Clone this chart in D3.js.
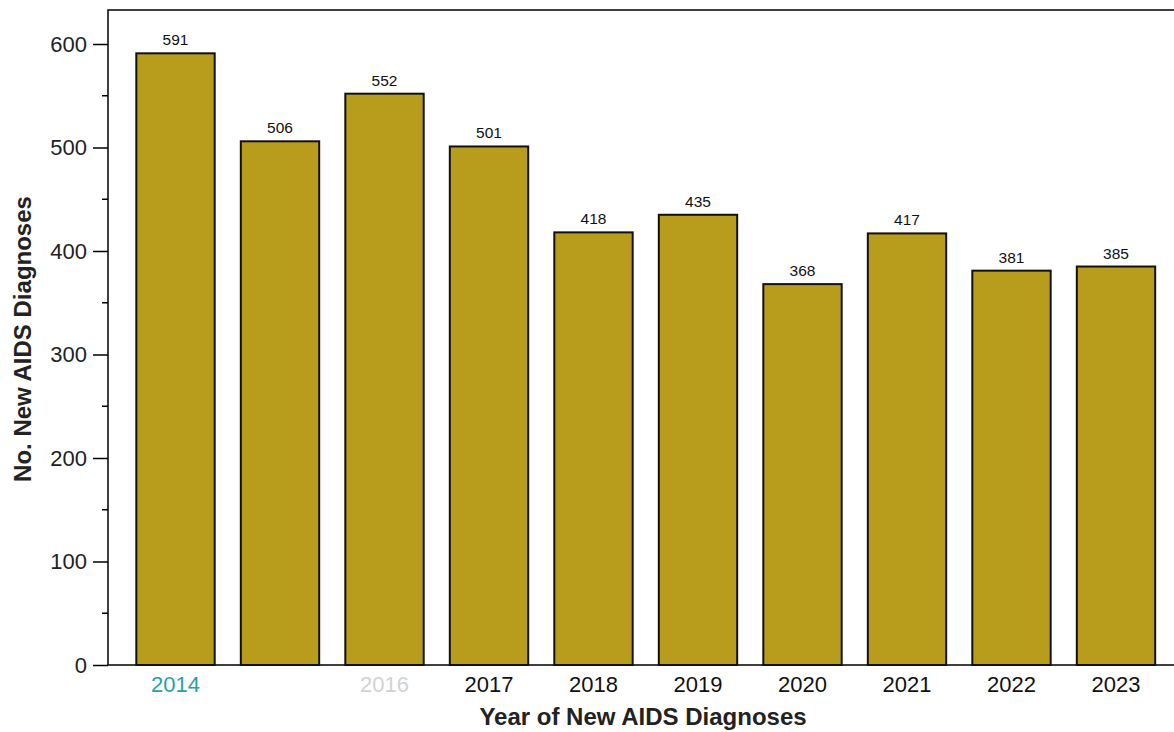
<!DOCTYPE html>
<html><head><meta charset="utf-8">
<script src="https://cdn.jsdelivr.net/npm/d3@7"></script>
<style>body{margin:0;background:#fff}svg{display:block}text{font-family:"Liberation Sans",Arial,sans-serif}</style>
</head><body>
<svg id="c" width="1174" height="732"></svg>
<script>
const years = ["2014","2015","2016","2017","2018","2019","2020","2021","2022","2023"];
const values = [591,506,552,501,418,435,368,417,381,385];
const tickLabels = ["2014","","2016","2017","2018","2019","2020","2021","2022","2023"];
const tickColors = ["#2a9fa8","#000","#d2d2d2","#111","#111","#111","#111","#111","#111","#111"];
const yTicks = [0,100,200,300,400,500,600];

(function(){
const svg = d3.select("#c");
const mLeft = 108, mTop = 10, mBottom = 665, mRight = 1180;
const x = d3.scaleBand().domain(years).range([123.25,1168.25]).paddingInner(0.25).paddingOuter(0.125);
const y = d3.scaleLinear().domain([0,600]).range([mBottom, 44]);

svg.append("path").attr("d",`M${mRight},${mTop}H${mLeft}V${mBottom}H${mRight}`).attr("fill","none").attr("stroke","#000").attr("stroke-width",1.5);

svg.selectAll("rect.bar").data(values).join("rect").attr("class","bar")
  .attr("x",(d,i)=>x(years[i])).attr("width",x.bandwidth())
  .attr("y",d=>y(d)).attr("height",d=>y(0)-y(d))
  .attr("fill","#b79d1b").attr("stroke","#111").attr("stroke-width",2);

svg.selectAll("text.val").data(values).join("text").attr("class","val")
  .attr("x",(d,i)=>x(years[i])+x.bandwidth()/2).attr("y",d=>y(d)-8)
  .attr("text-anchor","middle").attr("font-size",15.5).attr("fill","#111").text(d=>d);

const ya = d3.axisLeft(y).tickValues(yTicks).tickSize(15).tickPadding(6).tickSizeOuter(0);
const yg = svg.append("g").attr("transform",`translate(${mLeft},0)`).call(ya);
yg.select(".domain").remove();
yg.selectAll("text").attr("font-size",22).attr("fill","#222").attr("font-family","Liberation Sans, Arial, sans-serif");
yg.selectAll("line").attr("stroke","#000").attr("stroke-width",1.5);
const minor = d3.range(50,600,100);
svg.selectAll("line.minor").data(minor).join("line").attr("class","minor")
  .attr("x1",mLeft-6).attr("x2",mLeft).attr("y1",d=>y(d)).attr("y2",d=>y(d)).attr("stroke","#000").attr("stroke-width",1.5);

svg.selectAll("text.xl").data(tickLabels).join("text").attr("class","xl")
  .attr("x",(d,i)=>x(years[i])+x.bandwidth()/2).attr("y",692)
  .attr("text-anchor","middle").attr("font-size",22).attr("fill",(d,i)=>tickColors[i]).text(d=>d);

svg.append("text").attr("x",643).attr("y",725).attr("text-anchor","middle").attr("font-size",24).attr("font-weight","bold").attr("fill","#222").text("Year of New AIDS Diagnoses");
svg.append("text").attr("transform","translate(31,339) rotate(-90)").attr("text-anchor","middle").attr("font-size",24).attr("font-weight","bold").attr("fill","#222").text("No. New AIDS Diagnoses");
})();
</script>
</body></html>
